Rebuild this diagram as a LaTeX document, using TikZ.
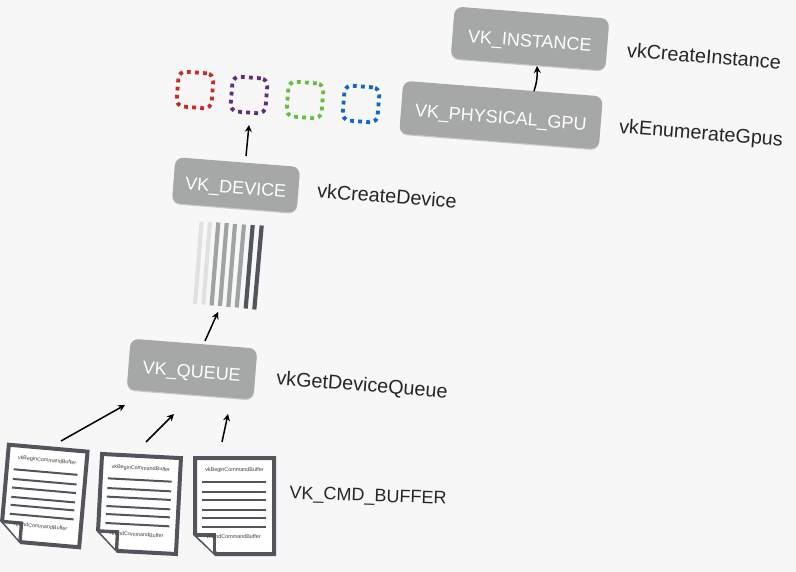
\documentclass[tikz,border=0pt]{standalone}
\usepackage{fontspec}
\setmainfont{Liberation Sans}
\usetikzlibrary{calc,shadows,arrows.meta}
\definecolor{bgc}{HTML}{F7F7F7}
\definecolor{boxc}{HTML}{A5A8A7}
\definecolor{docc}{HTML}{52565C}
\definecolor{sred}{HTML}{CC2A22}
\definecolor{spur}{HTML}{5E2D85}
\definecolor{sgrn}{HTML}{63C03C}
\definecolor{sblu}{HTML}{0F66CC}
\definecolor{slite}{HTML}{DFE1E3}
\definecolor{smid}{HTML}{A0A3A3}
\tikzset{
  apibox/.style={fill=boxc,rounded corners=8pt,rotate=-4.5,text=white,inner sep=0pt,
    font=\fontsize{18}{18}\selectfont,text height=17pt,text depth=0pt,
    drop shadow={shadow xshift=0pt,shadow yshift=-1.2pt,opacity=.18,fill=black}},
  calllabel/.style={rotate=-4.5,text=black!85,font=\fontsize{19.8}{20}\selectfont,inner sep=0pt},
  queuesq/.style={draw=#1,rotate=-4.5,minimum size=35pt,inner sep=0pt,rounded corners=7pt,
    line width=3.8pt,dash pattern=on 3.8pt off 4.3pt},
  arr/.style={-{Stealth[length=7pt,width=7pt]},line width=1.5pt,black},
  stripe/.style={line width=4.2pt},
  docline/.style={docc,line width=2pt},
  doctext/.style={font=\fontsize{5.4}{6}\selectfont,text=black!75,inner sep=0pt,transform shape},
  anchorpt/.style={inner sep=0pt,minimum size=0pt}
}
\newcommand{\docsheet}[4]{% name, x, y, angle
  \node[anchorpt] (#1) at (#2,#3) {};
  \begin{scope}[shift={(#2,#3)},rotate=#4]
    \fill[white,draw=docc,line width=4pt,miter limit=10]
      (-39.5,-48) -- (39.5,-48) -- (39.5,48) -- (-18.5,48) -- (-39.5,28) -- cycle;
    \foreach \yy in {-24,-14.3,-5.7,3.7,11.7,20.7}
      \draw[docline] (-32.5,\yy) -- (31.5,\yy);
    \node[doctext] at (0,-35.5) {vkBeginCommandBuffer};
    \fill[white] (-40,28.5) -- (-20,28.5) -- (-20,48) -- cycle;
    \draw[docc,line width=0.8pt] (-41.5,27) -- (-18.5,49.5);
    \draw[docc,line width=3.4pt] (-40,29) -- (-20,29) -- (-20,48);
    \node[doctext] at (-1,30.5) {vkEndCommandBuffer};
  \end{scope}
}
\begin{document}
\begin{tikzpicture}[x=1pt,y=-1pt]
\useasboundingbox (0,0) rectangle (796,572);
\fill[bgc] (0,0) rectangle (796,572);

% API boxes
\node[apibox,minimum width=155pt,minimum height=52pt] (inst) at (530,38.5) {VK\_INSTANCE};
\node[apibox,minimum width=200pt,minimum height=53pt] (gpu) at (501,115) {VK\_PHYSICAL\_GPU};
\node[apibox,minimum width=125pt,minimum height=46pt] (dev) at (236,185) {VK\_DEVICE};
\node[apibox,minimum width=127pt,minimum height=51pt] (que) at (192,369) {VK\_QUEUE};

% labels
\node[calllabel] (linst) at (704,56) {vkCreateInstance};
\node[calllabel] (lgpu) at (701,134.5) {vkEnumerateGpus};
\node[calllabel] (ldev) at (387,196) {vkCreateDevice};
\node[calllabel] (lque) at (362,386) {vkGetDeviceQueue};
\node[calllabel,rotate=2.5,font=\fontsize{18}{18}\selectfont] (lcmd) at (368,497) {VK\_CMD\_BUFFER};

% dotted queue squares
\node[queuesq=sred] (q1) at (195,90) {};
\node[queuesq=spur] (q2) at (249,95) {};
\node[queuesq=sgrn] (q3) at (305,100) {};
\node[queuesq=sblu] (q4) at (361,104) {};

% stripes
\node[anchorpt] (stripes) at (228,265) {};
\draw[stripe,slite] (201.7,221.5) -- (195,304);
\draw[stripe,slite] (210.0,222) -- (203.3,304.5);
\draw[stripe,smid] (218.3,222.5) -- (211.6,305.5);
\draw[stripe,smid] (226.7,223) -- (220,306);
\draw[stripe,smid] (235,224) -- (228.3,307);
\draw[stripe,smid] (244,224.5) -- (236.7,307.5);
\draw[stripe,docc] (252.7,225) -- (245.7,308.5);
\draw[stripe,docc] (261.7,225.5) -- (254.3,309.5);

% command buffers
\docsheet{d1}{44}{496}{-5}
\docsheet{d2}{139}{504}{-3}
\docsheet{d3}{234.5}{506}{0}

% connectors (offsets in picture units, y growing downward)
\draw[arr] ($(d1)+(17,-55)$) -- ($(que)+(-67,36)$);
\draw[arr] ($(d2)+(7,-62)$) -- ($(que)+(-18,45)$);
\draw[arr] ($(d3)+(-12.5,-64)$) -- ($(que)+(36,45)$);
\draw[arr] ($(que)+(13,-28)$) -- ($(stripes)+(-10,47)$);
\draw[arr] ($(dev)+(10,-29)$) -- ($(q2)+(0,30)$);
\draw[arr] ($(gpu)+(33,-24)$) .. controls ($(gpu)+(35.5,-31)$) and ($(gpu)+(36.5,-38)$) .. ($(inst)+(7,27.5)$);
\end{tikzpicture}
\end{document}
